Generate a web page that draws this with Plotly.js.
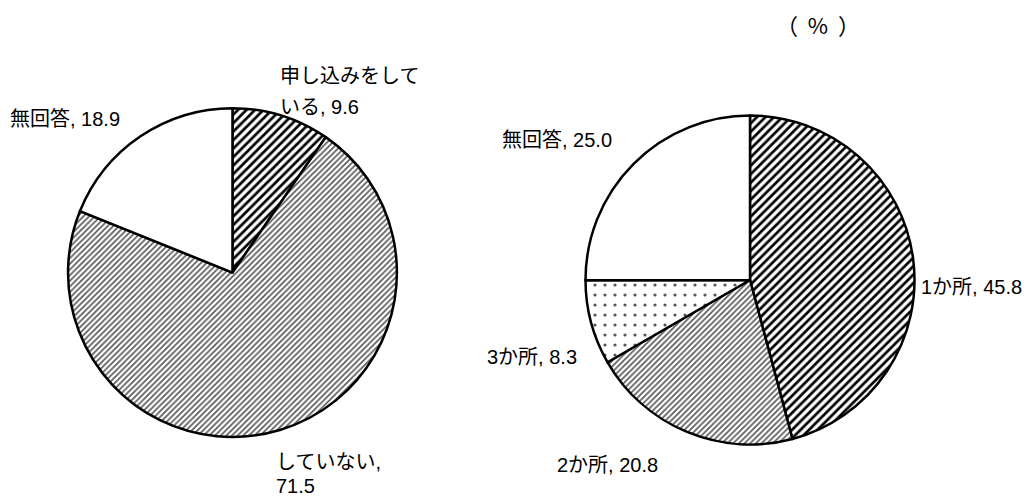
<!DOCTYPE html>
<html><head><meta charset="utf-8">
<script src="https://cdn.plot.ly/plotly-3.0.1.min.js"></script>
<style>html,body{margin:0;padding:0;background:#fff}#chart{width:1033px;height:496px}</style>
</head><body><div id="chart"></div>
<script>
// Data
const leftLabels = ["申し込みをしている", "していない", "無回答"];
const leftValues = [9.6, 71.5, 18.9];
const rightLabels = ["1か所", "2か所", "3か所", "無回答"];
const rightValues = [45.8, 20.8, 8.3, 25.0];
const unitLabel = "（\u00a0\u00a0%\u00a0\u00a0）";

const FONT = "Liberation Sans, Arial, Noto Sans CJK JP, sans-serif";
const darkHatch = {shape: "/", fgcolor: "#000", bgcolor: "#fff", size: 6, solidity: 0.45};
const lightHatch = {shape: "/", fgcolor: "#555", bgcolor: "#fff", size: 4, solidity: 0.4};
const dots = {shape: ".", fgcolor: "#555", bgcolor: "#fff", size: 10, solidity: 0.08};

const leftTrace = {
  type: "pie", labels: leftLabels, values: leftValues, sort: false,
  direction: "clockwise", rotation: 0, textinfo: "none", hoverinfo: "label+value",
  domain: {x: [0.0658, 0.3843], y: [0.119, 0.782]},
  marker: {colors: ["#fff", "#fff", "#fff"], line: {color: "#000", width: 2.5},
    pattern: {
      shape: [darkHatch.shape, lightHatch.shape, ""],
      fgcolor: [darkHatch.fgcolor, lightHatch.fgcolor, "#000"],
      bgcolor: ["#fff", "#fff", "#fff"],
      size: [darkHatch.size, lightHatch.size, 6],
      solidity: [darkHatch.solidity, lightHatch.solidity, 0.3]
    }},
  showlegend: false
};
const rightTrace = {
  type: "pie", labels: rightLabels, values: rightValues, sort: false,
  direction: "clockwise", rotation: 0, textinfo: "none", hoverinfo: "label+value",
  domain: {x: [0.5668, 0.8853], y: [0.1038, 0.7671]},
  marker: {colors: ["#fff", "#fff", "#fff", "#fff"], line: {color: "#000", width: 2.5},
    pattern: {
      shape: [darkHatch.shape, lightHatch.shape, dots.shape, ""],
      fgcolor: [darkHatch.fgcolor, lightHatch.fgcolor, dots.fgcolor, "#000"],
      bgcolor: ["#fff", "#fff", "#fff", "#fff"],
      size: [darkHatch.size, lightHatch.size, dots.size, 6],
      solidity: [darkHatch.solidity, lightHatch.solidity, dots.solidity, 0.3]
    }},
  showlegend: false
};

function fullText(labels, values, i) { return labels[i] + ", " + values[i].toFixed(1); }

// label placement (layout): [x px, y px of each line], split points
const leftPos = [
  {lines: [[278, 76], [278, 107]], split: (s) => [s.slice(0, 7), s.slice(7)]},
  {lines: [[274, 462], [274, 486]], split: (s) => { const k = s.indexOf(", "); return [s.slice(0, k + 1), s.slice(k + 2)]; }},
  {lines: [[8, 119]], split: (s) => [s]}
];
const rightPos = [
  {lines: [[919, 287]], split: (s) => [s]},
  {lines: [[555, 465]], split: (s) => [s]},
  {lines: [[485, 357]], split: (s) => [s]},
  {lines: [[500, 140]], split: (s) => [s]}
];

const W = 1033, H = 496;
const annotations = [];
function addLabels(labels, values, pos) {
  labels.forEach((l, i) => {
    const parts = pos[i].split(fullText(labels, values, i));
    parts.forEach((p, j) => {
      const [x, y] = pos[i].lines[j];
      annotations.push({text: p, xref: "paper", yref: "paper", x: x / W, y: 1 - y / H,
        xanchor: "left", yanchor: "middle", showarrow: false,
        font: {family: FONT, size: 20, color: "#000"}});
    });
  });
}
addLabels(leftLabels, leftValues, leftPos);
addLabels(rightLabels, rightValues, rightPos);
annotations.push({text: unitLabel, xref: "paper", yref: "paper", x: 818 / W, y: 1 - 24 / H,
  xanchor: "center", yanchor: "middle", showarrow: false,
  font: {family: "Noto Sans CJK JP, sans-serif", size: 22, color: "#000"}});

Plotly.newPlot("chart", [leftTrace, rightTrace], {
  width: W, height: H, margin: {l: 0, r: 0, t: 0, b: 0},
  paper_bgcolor: "#fff", plot_bgcolor: "#fff", annotations: annotations
}, {staticPlot: true});
</script></body></html>
